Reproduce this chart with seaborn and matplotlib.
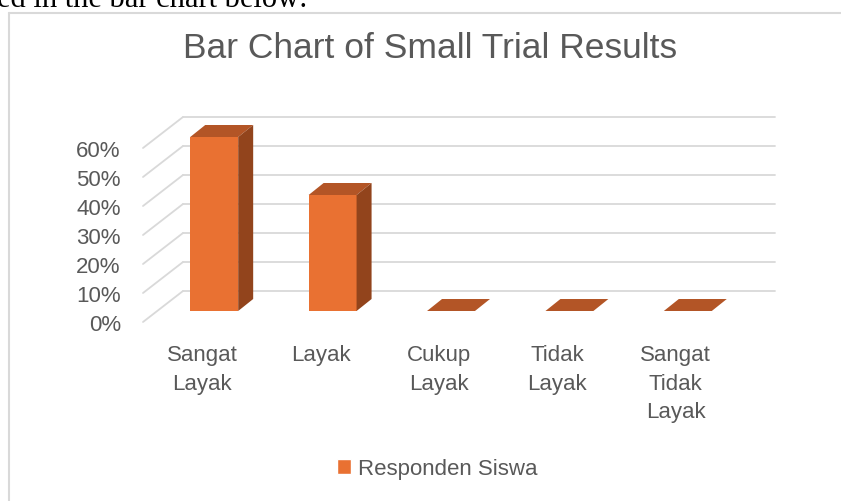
import pandas as pd
import matplotlib
matplotlib.use("Agg")
import matplotlib.pyplot as plt
from matplotlib.patches import Polygon, Patch
from matplotlib.lines import Line2D
import seaborn as sns

# data
categories = ["Sangat Layak", "Layak", "Cukup Layak", "Tidak Layak", "Sangat Tidak Layak"]
values = [0.60, 0.40, 0.0, 0.0, 0.0]
series_name = "Responden Siswa"
y_ticks = [0.0, 0.1, 0.2, 0.3, 0.4, 0.5, 0.6]

FRONT = "#E97132"
TOP = "#B35526"
SIDE = "#92441C"
GRID = "#D9D9D9"
TXT = "#595959"

sns.set_style("white")
plt.rcParams["font.family"] = ["Liberation Sans", "DejaVu Sans"]

df = pd.DataFrame({"kategori": categories, "nilai": values, "seri": series_name})

fig = plt.figure(figsize=(8.41, 5.02), dpi=100)
W, H = 841, 502
# front plane of the 3d box
ax = fig.add_axes([143 / W, 1 - 323 / H, (735 - 143) / W, (323 - 149) / H])

sns.barplot(data=df, x="kategori", y="nilai", color=FRONT, width=0.405,
            saturation=1, ax=ax, zorder=3)
ax.set_xlim(-0.5, len(categories) - 0.5)
ax.set_ylim(0, 0.6)

# pixel -> data conversion for the depth effect
px2x = (ax.get_xlim()[1] - ax.get_xlim()[0]) / ax.bbox.width
px2y = (ax.get_ylim()[1] - ax.get_ylim()[0]) / ax.bbox.height

# back wall gridlines and slanted side lines
bx, by = 40 * px2x, 31 * px2y
x_lo, x_hi = ax.get_xlim()
for t in y_ticks:
    ax.plot([x_lo + bx, x_hi + bx], [t + by, t + by], color=GRID, lw=1.3,
            clip_on=False, zorder=1)
    ax.plot([x_lo, x_lo + bx], [t, t + by], color=GRID, lw=1.3,
            clip_on=False, zorder=1)

# give the bars depth
ox, oy = 12 * px2x, 11 * px2y
dx, dy = 15 * px2x, 12 * px2y
for bar in ax.patches:
    x0 = bar.get_x() + ox
    h = bar.get_height()
    bar.set_x(x0)
    bar.set_y(oy)
    bar.set_clip_on(False)
    bar.set_linewidth(0)
    x1 = x0 + bar.get_width()
    y0, y1 = oy, oy + h
    top = Polygon([(x0, y1), (x1, y1), (x1 + dx, y1 + dy), (x0 + dx, y1 + dy)],
                  closed=True, facecolor=TOP, lw=0, clip_on=False, zorder=4)
    ax.add_patch(top)
    if h > 0:
        side = Polygon([(x1, y0), (x1 + dx, y0 + dy), (x1 + dx, y1 + dy), (x1, y1)],
                       closed=True, facecolor=SIDE, lw=0, clip_on=False, zorder=4)
        ax.add_patch(side)

ax.set_yticks(y_ticks)
ax.set_yticklabels([f"{int(round(t * 100))}%" for t in y_ticks], fontsize=16, color=TXT)
ax.set_xticks(range(len(categories)))
ax.set_xticklabels([c.replace(" ", "\n") for c in categories], fontsize=16,
                   color=TXT, linespacing=1.47, va="top")
ax.tick_params(axis="y", length=0, pad=16)
ax.tick_params(axis="x", length=0, pad=16)
ax.set_xlabel("")
ax.set_ylabel("")
for s in ax.spines.values():
    s.set_visible(False)
ax.patch.set_alpha(0)

# title and legend
fig.text(430 / W, 1 - 58 / H, "Bar Chart of Small Trial Results", ha="center",
         va="baseline", fontsize=25.5, color=TXT)
ax.legend(handles=[Patch(facecolor=FRONT, label=series_name)], loc="center",
          bbox_to_anchor=(437 / W, 1 - 470 / H), bbox_transform=fig.transFigure,
          frameon=False, fontsize=16, labelcolor=TXT, handlelength=0.65,
          handleheight=0.65, handletextpad=0.3)

# chart frame and cut-off document text above it
fig.add_artist(Line2D([8.5 / W, 8.5 / W], [0, 1 - 14 / H], color=GRID, lw=1.5))
fig.add_artist(Line2D([8.5 / W, 1], [1 - 14 / H, 1 - 14 / H], color=GRID, lw=1.5))
fig.text(-3 / W, 1 - 7 / H, "ed in the bar chart below:", ha="left", va="baseline",
         fontsize=22, color="black", family=["Liberation Serif", "DejaVu Serif"])

fig.savefig("out.png", dpi=100)
